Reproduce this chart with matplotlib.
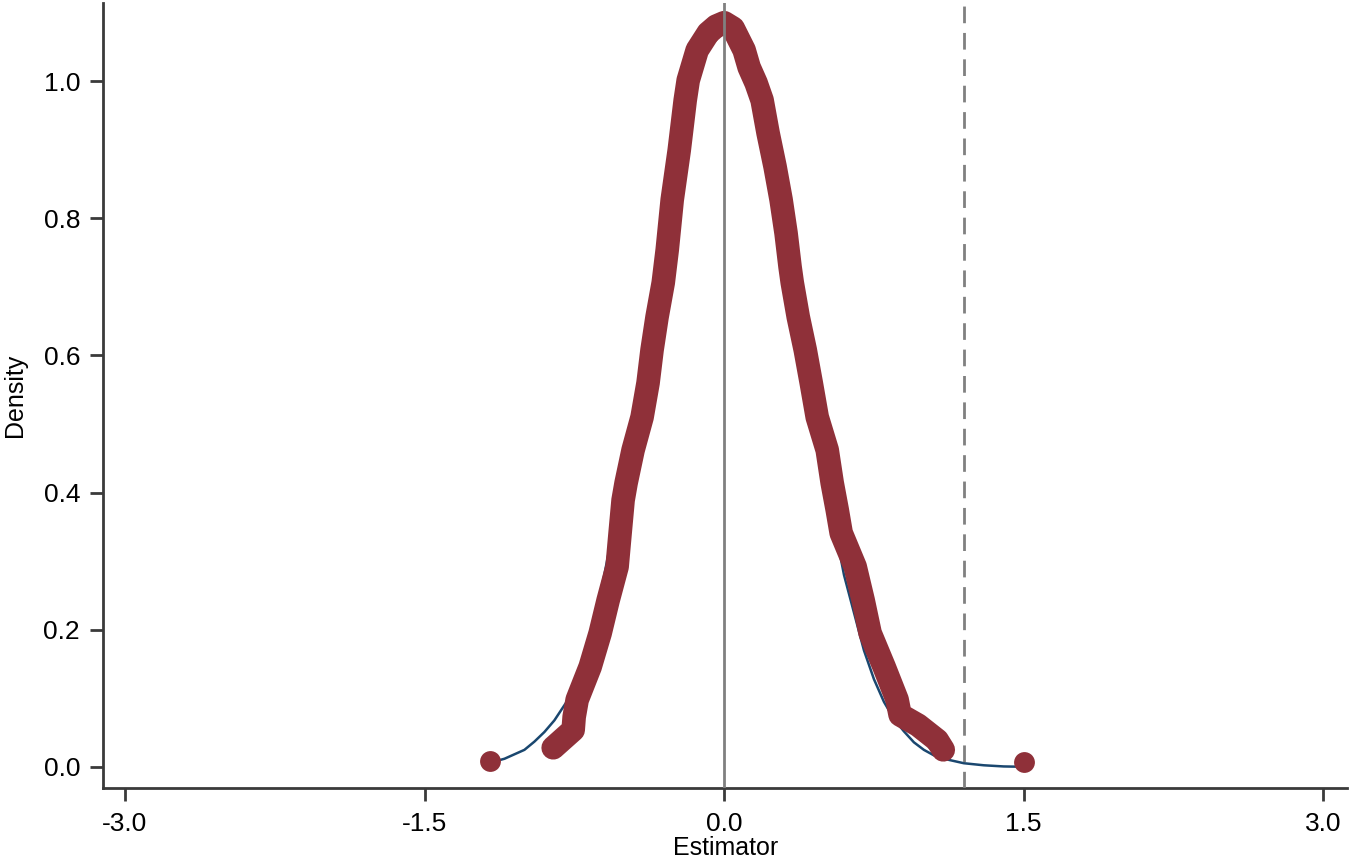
import matplotlib
matplotlib.use("Agg")
import matplotlib.pyplot as plt

plt.rcParams['font.family'] = ['Liberation Sans', 'DejaVu Sans']

# kernel density of the estimator
dens_x = [-1.172, -0.856, -0.756, -0.751, -0.736, -0.671, -0.621, -0.581, -0.536,
          -0.521, -0.506, -0.491, -0.456, -0.411, -0.381, -0.361, -0.336, -0.305,
          -0.285, -0.260, -0.225, -0.195, -0.180, -0.135, -0.080, -0.040, 0.000,
          0.045, 0.100, 0.125, 0.160, 0.190, 0.220, 0.255, 0.285, 0.310, 0.330,
          0.341, 0.371, 0.406, 0.436, 0.466, 0.516, 0.541, 0.566, 0.586, 0.656,
          0.696, 0.731, 0.801, 0.866, 0.881, 0.971, 1.067, 1.097, 1.502]
dens_y = [0.009, 0.028, 0.054, 0.073, 0.098, 0.146, 0.195, 0.243, 0.292,
          0.341, 0.389, 0.414, 0.462, 0.510, 0.560, 0.608, 0.656, 0.706,
          0.754, 0.827, 0.899, 0.972, 1.001, 1.045, 1.070, 1.080, 1.085,
          1.077, 1.045, 1.020, 0.997, 0.972, 0.924, 0.875, 0.827, 0.778, 0.729,
          0.706, 0.656, 0.608, 0.560, 0.510, 0.462, 0.414, 0.375, 0.341, 0.292,
          0.243, 0.195, 0.146, 0.098, 0.076, 0.061, 0.039, 0.025, 0.007]

# normal density overlay
norm_x = [-1.17, -1.10, -1.00, -0.95, -0.90, -0.85, -0.80, -0.75, -0.70, -0.65,
          -0.60, -0.50, -0.40, -0.30, -0.20, -0.10, 0.00, 0.10, 0.20, 0.30,
          0.40, 0.50, 0.60, 0.65, 0.70, 0.75, 0.80, 0.85, 0.90, 0.95,
          1.00, 1.05, 1.10, 1.20, 1.30, 1.40, 1.50]
norm_y = [0.0065, 0.012, 0.025, 0.037, 0.051, 0.068, 0.090, 0.112, 0.150, 0.215,
          0.28, 0.43, 0.60, 0.78, 0.94, 1.05, 1.09, 1.05, 0.94, 0.78,
          0.60, 0.43, 0.28, 0.225, 0.170, 0.128, 0.095, 0.070, 0.052, 0.036,
          0.025, 0.017, 0.012, 0.0055, 0.0025, 0.0008, 0.0003]

true_value = 0.0
cutoff = 1.2

xticks = [-3.0, -1.5, 0.0, 1.5, 3.0]
yticks = [0.0, 0.2, 0.4, 0.6, 0.8, 1.0]

maroon = '#8f3039'
navy = '#1a476f'
spine = '#3a3a3a'

fig = plt.figure(figsize=(13.5, 8.61), dpi=100)
ax = fig.add_axes([0.0763, 0.0848, 0.9217, 0.9117])

ax.plot(norm_x, norm_y, color=navy, lw=1.8, zorder=2)
ax.plot(dens_x[1:-1], dens_y[1:-1], color=maroon, lw=17,
        solid_capstyle='round', solid_joinstyle='round', zorder=3)
ax.plot(dens_x, dens_y, 'o', color=maroon, ms=15, mec='none', zorder=3)

ax.axvline(true_value, color='#808080', lw=2, zorder=4)
ax.axvline(cutoff, color='#808080', lw=2, ls=(0, (6, 3.5)), zorder=4)

ax.set_xlim(-3.11, 3.12)
ax.set_ylim(-0.0306, 1.1137)
ax.set_xticks(xticks)
ax.set_xticklabels([f'{t:.1f}' for t in xticks])
ax.set_yticks(yticks)
ax.set_yticklabels([f'{t:.1f}' for t in yticks])

for s in ['top', 'right']:
    ax.spines[s].set_visible(False)
for s in ['left', 'bottom']:
    ax.spines[s].set_color(spine)
    ax.spines[s].set_linewidth(2)

ax.tick_params(axis='both', length=9.5, width=2, color=spine, labelsize=19)
ax.tick_params(axis='y', pad=7)
ax.tick_params(axis='x', pad=8)

ax.set_xlabel('Estimator', fontsize=18, labelpad=0)
ax.set_ylabel('Density', fontsize=18, labelpad=12)

fig.savefig('out.png', dpi=100)
